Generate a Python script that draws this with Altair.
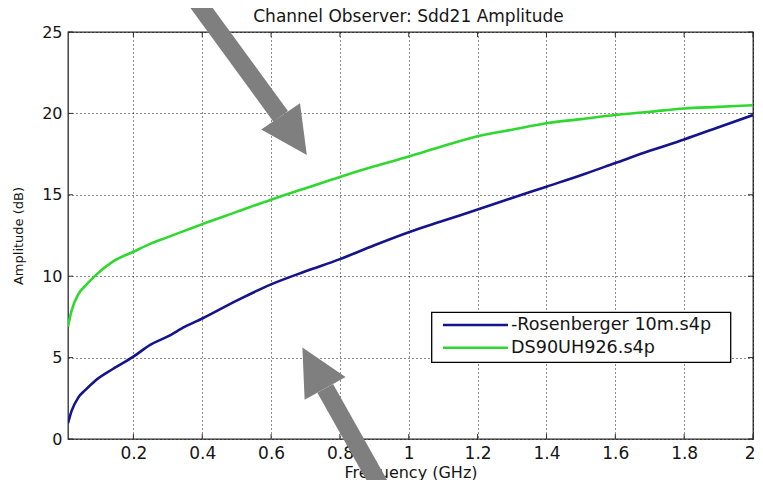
import altair as alt
import pandas as pd

# ---------------- data ----------------
FREQ = [0.01, 0.02, 0.04, 0.06, 0.09, 0.14, 0.2, 0.25, 0.3, 0.35, 0.4, 0.5, 0.6,
        0.7, 0.8, 0.9, 1.0, 1.1, 1.2, 1.3, 1.4, 1.5, 1.6, 1.7, 1.8, 1.9, 2.0]
ROSENBERGER = [0.97, 1.7, 2.55, 3.0, 3.6, 4.3, 5.06, 5.8, 6.3, 6.9, 7.4, 8.5, 9.5,
               10.3, 11.05, 11.9, 12.7, 13.4, 14.1, 14.8, 15.5, 16.2, 16.95, 17.7, 18.4, 19.15, 19.9]
DS90 = [6.9, 7.85, 8.9, 9.4, 10.05, 10.9, 11.5, 12.0, 12.4, 12.8, 13.2, 13.95, 14.7,
        15.4, 16.1, 16.75, 17.35, 18.0, 18.6, 19.0, 19.4, 19.65, 19.9, 20.1, 20.3, 20.4, 20.5]
SERIES = ["-Rosenberger 10m.s4p", "DS90UH926.s4p"]
COLORS = ["#14148c", "#2fd82f"]

X_TICKS = [0.2, 0.4, 0.6, 0.8, 1.0, 1.2, 1.4, 1.6, 1.8, 2.0]
Y_TICKS = [0, 5, 10, 15, 20, 25]

TITLE = "Channel Observer: Sdd21 Amplitude"
X_TITLE = "Frequency (GHz)"
Y_TITLE = "Amplitude (dB)"

# annotation arrows (data units: frequency, amplitude)
ARROW_ID = ["a1", "a2"]
ARROW_TAIL_F = [0.3557, 0.9396]
ARROW_TAIL_A = [27.70, -3.75]
ARROW_BASE_F = [0.6279, 0.7572]
ARROW_BASE_A = [19.82, 3.11]
ARROW_HEAD_F = [0.6657, 0.7239]
ARROW_HEAD_A = [18.63, 4.37]
ARROW_HEAD_ANGLE = [146, 331]

# ---------------- layout / style ----------------
W, H = 685, 407
FONT = "DejaVu Sans"
TXT = "#151515"
AXC = "#2b2b2b"
TICK = 5
ARROW_C = "#7f7f7f"
TRI = "M0,-1L1,1L-1,1Z"

XS = alt.Scale(domain=[0.01, 2], nice=False, zero=False)
YS = alt.Scale(domain=[0, 25], nice=False, zero=False)

n = len(FREQ)
df = pd.DataFrame({
    "freq": FREQ + FREQ,
    "amp": ROSENBERGER + DS90,
    "series": [SERIES[0]] * n + [SERIES[1]] * n,
})

lines = alt.Chart(df).mark_line(strokeWidth=2.6, interpolate="monotone", clip=True).encode(
    x=alt.X("freq:Q", scale=XS, title=X_TITLE,
            axis=alt.Axis(values=X_TICKS, format="~g", grid=True, gridDash=[1, 3],
                          gridColor="#000", gridOpacity=0.9, gridWidth=1,
                          ticks=False, domain=False,
                          labelFont=FONT, labelFontSize=17, labelColor=TXT, labelPadding=6,
                          labelFlush=True, labelFlushOffset=2,
                          titleFont=FONT, titleFontSize=16, titleFontWeight="normal",
                          titleColor=TXT, titleY=38, titleBaseline="alphabetic")),
    y=alt.Y("amp:Q", scale=YS, title=Y_TITLE,
            axis=alt.Axis(values=Y_TICKS, format="d", grid=True, gridDash=[1, 3],
                          gridColor="#000", gridOpacity=0.9, gridWidth=1,
                          ticks=False, domain=False,
                          labelFont=FONT, labelFontSize=16, labelColor=TXT, labelPadding=6,
                          titleFont=FONT, titleFontSize=13, titleFontWeight="normal",
                          titleColor=TXT, titleX=-46, titleY=H / 2,
                          titleBaseline="alphabetic", titleAlign="center", titleAngle=270)),
    color=alt.Color("series:N", scale=alt.Scale(domain=SERIES, range=COLORS), legend=None),
    order=alt.Order("freq:Q"),
)

xt = pd.DataFrame({"v": X_TICKS})
yt = pd.DataFrame({"v": Y_TICKS})
tick_bottom = alt.Chart(xt).mark_rule(color=AXC, strokeWidth=1).encode(
    x=alt.X("v:Q", scale=XS), y=alt.value(H), y2=alt.value(H - TICK))
tick_top = alt.Chart(xt).mark_rule(color=AXC, strokeWidth=1).encode(
    x=alt.X("v:Q", scale=XS), y=alt.value(0), y2=alt.value(TICK))
tick_left = alt.Chart(yt).mark_rule(color=AXC, strokeWidth=1).encode(
    y=alt.Y("v:Q", scale=YS), x=alt.value(0), x2=alt.value(TICK))
tick_right = alt.Chart(yt).mark_rule(color=AXC, strokeWidth=1).encode(
    y=alt.Y("v:Q", scale=YS), x=alt.value(W), x2=alt.value(W - TICK))

# chart title as a text layer (kept clear of the arrow that runs off the top)
title_layer = alt.Chart(pd.DataFrame({"t": [TITLE]})).mark_text(
    align="center", baseline="alphabetic", font=FONT, fontSize=17, color=TXT
).encode(x=alt.value(W / 2 - 2), y=alt.value(-10.5), text="t:N")

# legend (drawn inside the plot, MATLAB style)
LEG_X0, LEG_X1, LEG_Y0, LEG_Y1 = 363.7, 662.7, 280.3, 330.3
LEG_ROW_Y = [293, 315.7]
LEG_LINE_X0, LEG_LINE_X1, LEG_TEXT_X = 375, 440, 443

legend_layers = [
    alt.Chart(pd.DataFrame({"k": [0]})).mark_rect(fill="white", stroke="#000", strokeWidth=1.3).encode(
        x=alt.value(LEG_X0), x2=alt.value(LEG_X1), y=alt.value(LEG_Y0), y2=alt.value(LEG_Y1))
]
for i, name in enumerate(SERIES):
    ldf = pd.DataFrame({"series": [name]})
    legend_layers.append(
        alt.Chart(ldf).mark_rule(color=COLORS[i], strokeWidth=2.6).encode(
            x=alt.value(LEG_LINE_X0), x2=alt.value(LEG_LINE_X1), y=alt.value(LEG_ROW_Y[i])))
    legend_layers.append(
        alt.Chart(ldf).mark_text(align="left", baseline="middle", font=FONT, fontSize=17.6,
                                 color=TXT).encode(
            x=alt.value(LEG_TEXT_X), y=alt.value(LEG_ROW_Y[i]), text="series:N"))

# arrows
shaft_df = pd.DataFrame({
    "arrow": ARROW_ID + ARROW_ID,
    "idx": [0, 0, 1, 1],
    "f": ARROW_TAIL_F + ARROW_BASE_F,
    "a": ARROW_TAIL_A + ARROW_BASE_A,
})
head_df = pd.DataFrame({"arrow": ARROW_ID, "f": ARROW_HEAD_F, "a": ARROW_HEAD_A,
                        "ang": ARROW_HEAD_ANGLE})

shafts = alt.Chart(shaft_df).mark_line(color=ARROW_C, strokeWidth=18, strokeCap="butt",
                                       clip=False).encode(
    x=alt.X("f:Q", scale=XS),
    y=alt.Y("a:Q", scale=YS),
    detail="arrow:N",
    order="idx:Q",
)
heads = alt.Chart(head_df).mark_point(shape=TRI, filled=True, size=2190, opacity=1,
                                      color=ARROW_C, strokeWidth=0, clip=False).encode(
    x=alt.X("f:Q", scale=XS),
    y=alt.Y("a:Q", scale=YS),
    angle=alt.Angle("ang:Q", scale=None),
)

chart = alt.layer(
    lines, tick_bottom, tick_top, tick_left, tick_right, title_layer, *legend_layers,
    shafts, heads
).properties(
    width=W,
    height=H,
    autosize="none",
    padding={"left": 60, "top": 24, "right": 2, "bottom": 41},
    background="white",
).configure_view(stroke=AXC, strokeWidth=1.3)

chart.save("out.html", embed_options={"renderer": "svg", "actions": False})
